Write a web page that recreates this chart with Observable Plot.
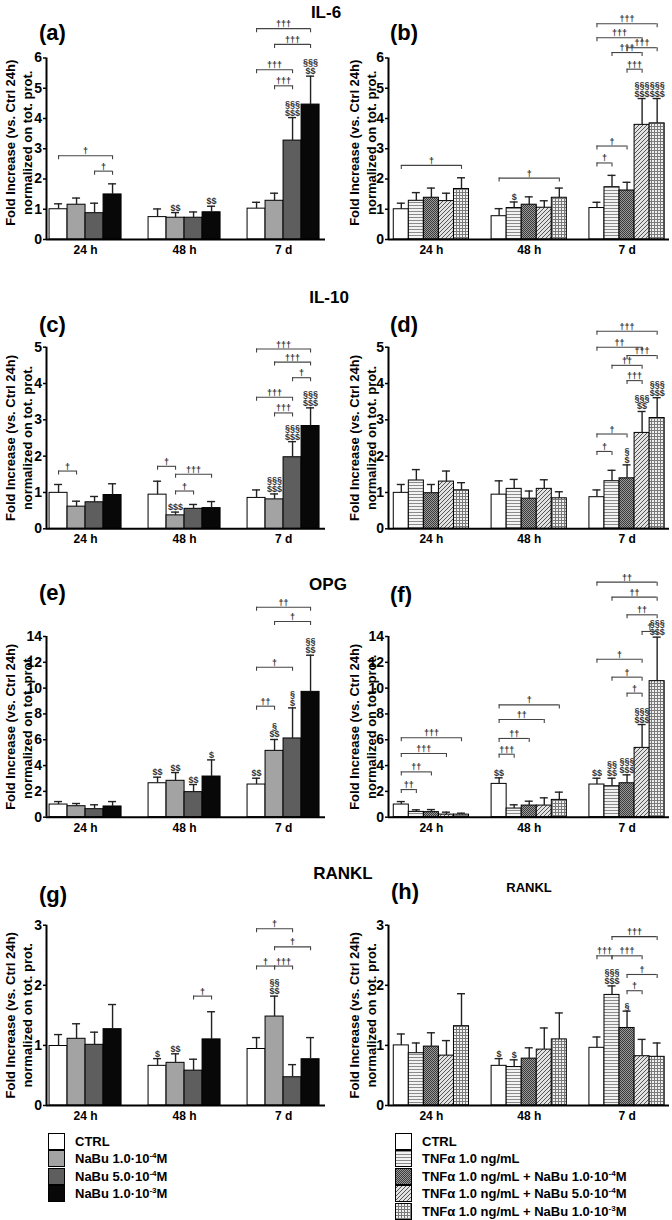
<!DOCTYPE html>
<html><head><meta charset="utf-8">
<script src="https://cdn.jsdelivr.net/npm/d3@7"></script>
<script src="https://cdn.jsdelivr.net/npm/@observablehq/plot@0.6"></script>
<style>
body{margin:0;background:#fff}
#fig{position:relative;width:672px;height:1220px;overflow:hidden;font-family:"Liberation Sans",Arial,sans-serif;color:#000;background:#fff}
.t{position:absolute;font-weight:bold;white-space:nowrap;line-height:1}
.leg{position:absolute;font-weight:bold;font-size:13px;line-height:1}
.lrow{display:flex;align-items:center;height:17.5px}
.lrow svg{margin-right:10px;flex:none}
.leg sup{font-size:8px;vertical-align:5px}
</style></head><body>
<svg width="0" height="0" style="position:absolute">
<defs>
<pattern id="p-h" patternUnits="userSpaceOnUse" width="4" height="3">
<rect width="4" height="3" fill="#f2f2f2"/><rect y="1" width="4" height="1" fill="#8a8a8a"/>
</pattern>
<pattern id="p-d" patternUnits="userSpaceOnUse" width="2" height="2">
<rect width="2" height="2" fill="#9a9a9a"/><rect width="1" height="1" fill="#3a3a3a"/><rect x="1" y="1" width="1" height="1" fill="#3a3a3a"/>
</pattern>
<pattern id="p-x" patternUnits="userSpaceOnUse" width="4" height="4">
<rect width="4" height="4" fill="#e2e2e2"/><path d="M0,4L4,0M-1,1L1,-1M3,5L5,3" stroke="#555" stroke-width="1"/>
</pattern>
<pattern id="p-g" patternUnits="userSpaceOnUse" width="3" height="3">
<rect width="3" height="3" fill="#f0f0f0"/><rect width="3" height="1" fill="#7a7a7a"/><rect width="1" height="3" fill="#7a7a7a"/>
</pattern>
</defs>
</svg>
<div id="fig"></div>
<script>
// ---------- categories ----------
const times = ["24 h", "48 h", "7 d"];
const nabuSeries = ["CTRL", "NaBu 1.0·10<sup>-4</sup>M", "NaBu 5.0·10<sup>-4</sup>M", "NaBu 1.0·10<sup>-3</sup>M"];
const tnfSeries = ["CTRL", "TNFα 1.0 ng/mL", "TNFα 1.0 ng/mL + NaBu 1.0·10<sup>-4</sup>M", "TNFα 1.0 ng/mL + NaBu 5.0·10<sup>-4</sup>M", "TNFα 1.0 ng/mL + NaBu 1.0·10<sup>-3</sup>M"];
const yLabel = "Fold Increase (vs. Ctrl 24h)\nnormalized on tot. prot.";

// ---------- tick labels ----------
const il6Ticks = [0, 1, 2, 3, 4, 5, 6];
const il10Ticks = [0, 1, 2, 3, 4, 5];
const opgTicks = [0, 2, 4, 6, 8, 10, 12, 14];
const ranklTicks = [0, 1, 2, 3];

// ---------- (a) IL-6, NaBu ----------
const il6NabuMean = [[1.00, 1.15, 0.87, 1.49], [0.74, 0.72, 0.72, 0.90], [1.02, 1.28, 3.27, 4.46]];
const il6NabuSd = [[0.18, 0.22, 0.33, 0.35], [0.27, 0.17, 0.19, 0.20], [0.21, 0.25, 0.76, 0.94]];
const il6NabuSig = [["", "", "", ""], ["", "$$", "", "$$"], ["", "", "§§§\n$$$", "§§§\n$$"]];
const il6NabuBrackets = [[0, 0, 3, 2.77, "†"], [0, 2, 3, 2.26, "†"], [2, 0, 3, 6.97, "†††"], [2, 1, 3, 6.45, "†††"], [2, 0, 2, 5.61, "†††"], [2, 1, 2, 5.08, "†††"]];

// ---------- (b) IL-6, TNFα ----------
const il6TnfMean = [[1.00, 1.28, 1.38, 1.27, 1.67], [0.77, 1.04, 1.15, 1.05, 1.38], [1.04, 1.73, 1.62, 3.79, 3.84]];
const il6TnfSd = [[0.20, 0.27, 0.32, 0.26, 0.37], [0.25, 0.20, 0.26, 0.23, 0.32], [0.19, 0.39, 0.27, 0.87, 0.82]];
const il6TnfSig = [["", "", "", "", ""], ["", "$", "", "", ""], ["", "", "", "§§§\n$$$", "§§§\n$$$"]];
const il6TnfBrackets = [[0, 0, 4, 2.45, "†"], [1, 0, 4, 2.03, "†"], [2, 0, 1, 2.53, "†"], [2, 0, 2, 3.09, "†"], [2, 2, 3, 5.63, "†††"], [2, 1, 3, 6.18, "†††"], [2, 2, 4, 6.34, "†††"], [2, 0, 3, 6.67, "†††"], [2, 0, 4, 7.13, "†††"]];

// ---------- (c) IL-10, NaBu ----------
const il10NabuMean = [[0.99, 0.61, 0.73, 0.93], [0.94, 0.37, 0.55, 0.57], [0.85, 0.81, 1.97, 2.83]];
const il10NabuSd = [[0.23, 0.15, 0.16, 0.31], [0.37, 0.09, 0.12, 0.18], [0.22, 0.15, 0.43, 0.50]];
const il10NabuSig = [["", "", "", ""], ["", "$$$", "", ""], ["", "§§§\n$$$", "§§§\n$$$", "§§§\n$$$"]];
const il10NabuBrackets = [[0, 0, 1, 1.59, "†"], [1, 0, 1, 1.72, "†"], [1, 1, 3, 1.50, "†††"], [1, 1, 2, 1.04, "†"], [2, 0, 3, 4.95, "†††"], [2, 1, 3, 4.59, "†††"], [2, 2, 3, 4.16, "†"], [2, 0, 2, 3.62, "†††"], [2, 1, 2, 3.19, "†††"]];

// ---------- (d) IL-10, TNFα ----------
const il10TnfMean = [[0.99, 1.33, 0.98, 1.30, 1.06], [0.94, 1.10, 0.83, 1.10, 0.84], [0.87, 1.31, 1.39, 2.64, 3.05]];
const il10TnfSd = [[0.23, 0.30, 0.24, 0.29, 0.21], [0.38, 0.26, 0.21, 0.25, 0.18], [0.20, 0.30, 0.37, 0.59, 0.56]];
const il10TnfSig = [["", "", "", "", ""], ["", "", "", "", ""], ["", "", "§\n$", "§§§\n$$", "§§§\n$$$"]];
const il10TnfBrackets = [[2, 0, 1, 2.13, "†"], [2, 0, 2, 2.61, "†"], [2, 2, 3, 4.08, "†††"], [2, 1, 3, 4.50, "††"], [2, 2, 4, 4.77, "†††"], [2, 0, 3, 5.00, "††"], [2, 0, 4, 5.44, "†††"]];

// ---------- (e) OPG, NaBu ----------
const opgNabuMean = [[0.98, 0.85, 0.62, 0.83], [2.63, 2.82, 1.94, 3.15], [2.53, 5.14, 6.10, 9.71]];
const opgNabuSd = [[0.23, 0.21, 0.34, 0.38], [0.47, 0.64, 0.59, 1.29], [0.49, 0.88, 2.37, 2.84]];
const opgNabuSig = [["", "", "", ""], ["$$", "$$", "$$", "$"], ["$$", "§\n$$", "§\n$", "§§\n$$"]];
const opgNabuBrackets = [[2, 0, 1, 8.6, "††"], [2, 0, 2, 11.62, "†"], [2, 1, 3, 15.16, "†"], [2, 0, 3, 16.27, "††"]];

// ---------- (f) OPG, TNFα ----------
const opgTnfMean = [[0.98, 0.41, 0.39, 0.20, 0.20], [2.58, 0.67, 0.90, 0.90, 1.34], [2.53, 2.40, 2.63, 5.37, 10.54]];
const opgTnfSd = [[0.23, 0.16, 0.20, 0.19, 0.11], [0.47, 0.29, 0.34, 0.60, 0.60], [0.49, 0.62, 0.65, 1.81, 3.41]];
const opgTnfSig = [["", "", "", "", ""], ["$$", "", "", "", ""], ["$$", "§§\n$$", "§§§\n$$$", "§§§\n$$$", "§§§\n$$$"]];
const opgTnfBrackets = [[0, 0, 1, 2.14, "††"], [0, 0, 2, 3.51, "††"], [0, 0, 3, 4.93, "†††"], [0, 0, 4, 6.15, "†††"], [1, 0, 1, 4.88, "†††"], [1, 0, 2, 6.10, "††"], [1, 0, 3, 7.57, "††"], [1, 0, 4, 8.70, "†"], [2, 2, 3, 9.61, "†"], [2, 1, 3, 10.85, "†"], [2, 0, 3, 12.24, "†"], [2, 3, 4, 14.39, "†"], [2, 2, 4, 15.68, "††"], [2, 1, 4, 17.05, "††"], [2, 0, 4, 18.21, "††"]];

// ---------- (g) RANKL, NaBu ----------
const ranklNabuMean = [[0.99, 1.11, 1.01, 1.27], [0.66, 0.71, 0.58, 1.10], [0.94, 1.48, 0.47, 0.77]];
const ranklNabuSd = [[0.19, 0.25, 0.21, 0.41], [0.12, 0.15, 0.19, 0.46], [0.19, 0.34, 0.21, 0.36]];
const ranklNabuSig = [["", "", "", ""], ["$", "$$", "", ""], ["", "§§\n$$", "", ""]];
const ranklNabuBrackets = [[1, 2, 3, 1.82, "†"], [2, 0, 1, 2.32, "†"], [2, 1, 2, 2.32, "†††"], [2, 1, 3, 2.64, "†"], [2, 0, 2, 2.94, "†"]];

// ---------- (h) RANKL, TNFα ----------
const ranklTnfMean = [[1.00, 0.87, 0.98, 0.83, 1.32], [0.66, 0.64, 0.78, 0.93, 1.10], [0.96, 1.84, 1.29, 0.82, 0.81]];
const ranklTnfSd = [[0.19, 0.17, 0.23, 0.25, 0.54], [0.12, 0.12, 0.18, 0.36, 0.44], [0.18, 0.15, 0.28, 0.28, 0.23]];
const ranklTnfSig = [["", "", "", "", ""], ["$", "$", "", "", ""], ["", "§§§\n$$$", "§", "", ""]];
const ranklTnfBrackets = [[2, 2, 3, 1.91, "†"], [2, 2, 4, 2.18, "†"], [2, 0, 1, 2.49, "†††"], [2, 1, 3, 2.49, "†††"], [2, 1, 4, 2.81, "†††"]];

// ---------- styles / layout ----------
const nabuFills = ["#ffffff", "#a3a3a3", "#5e5e5e", "#080808"];
const tnfFills = ["#ffffff", "url(#p-h)", "url(#p-d)", "url(#p-x)", "url(#p-g)"];
const FONT = "'Liberation Sans', Arial, sans-serif";

const rowsLayout = [
  {top: 0, axisTop: 57.5, zero: 239, labelDy: -6},
  {top: 280, axisTop: 346.7, zero: 528.3, labelDy: 0},
  {top: 560, axisTop: 636, zero: 816.7, labelDy: 0},
  {top: 840, axisTop: 924.7, zero: 1105, labelDy: 0}
];
const colsLayout = [
  {left: 0, marginLeft: 46, marginRight: 11, step: 5.5, padL: 0.17, padR: 0.33, labelDx: -28.5, fills: nabuFills, series: nabuSeries},
  {left: 336, marginLeft: 52, marginRight: 3, step: 6.5, padL: 0.35, padR: 0.32, labelDx: -26.5, fills: tnfFills, series: tnfSeries}
];

const panels = [
  {row: 0, col: 0, mean: il6NabuMean, sd: il6NabuSd, sig: il6NabuSig, brackets: il6NabuBrackets, ticks: il6Ticks},
  {row: 0, col: 1, mean: il6TnfMean, sd: il6TnfSd, sig: il6TnfSig, brackets: il6TnfBrackets, ticks: il6Ticks},
  {row: 1, col: 0, mean: il10NabuMean, sd: il10NabuSd, sig: il10NabuSig, brackets: il10NabuBrackets, ticks: il10Ticks},
  {row: 1, col: 1, mean: il10TnfMean, sd: il10TnfSd, sig: il10TnfSig, brackets: il10TnfBrackets, ticks: il10Ticks},
  {row: 2, col: 0, mean: opgNabuMean, sd: opgNabuSd, sig: opgNabuSig, brackets: opgNabuBrackets, ticks: opgTicks},
  {row: 2, col: 1, mean: opgTnfMean, sd: opgTnfSd, sig: opgTnfSig, brackets: opgTnfBrackets, ticks: opgTicks},
  {row: 3, col: 0, mean: ranklNabuMean, sd: ranklNabuSd, sig: ranklNabuSig, brackets: ranklNabuBrackets, ticks: ranklTicks},
  {row: 3, col: 1, mean: ranklTnfMean, sd: ranklTnfSd, sig: ranklTnfSig, brackets: ranklTnfBrackets, ticks: ranklTicks}
];

const fig = document.getElementById("fig");

function makePanel(p) {
  const R = rowsLayout[p.row], C = colsLayout[p.col];
  const n = C.series.length;
  const bars = [];
  p.mean.forEach((vals, g) => vals.forEach((m, k) => {
    const x1 = g * C.step + k;
    bars.push({k, x1, x2: x1 + 1, xc: x1 + 0.5, mean: m, cap: m + p.sd[g][k], sig: p.sig[g][k]});
  }));
  const br = p.brackets.map(([g, a, b, h, label]) => {
    const xa = g * C.step + a + 0.5, xb = g * C.step + b + 0.5;
    return {xa, xb, xm: (xa + xb) / 2, h, label};
  });
  const ends = br.flatMap(d => [{x: d.xa, h: d.h}, {x: d.xb, h: d.h}]);
  const centers = times.map((t, g) => g * C.step + n / 2);
  const labelOf = new Map(centers.map((c, g) => [c, times[g]]));
  const xmin = -C.padL, xmax = (times.length - 1) * C.step + n + C.padR;
  const ymax = p.ticks[p.ticks.length - 1];
  const svg = Plot.plot({
    width: 336,
    height: R.zero - R.top + 25,
    marginTop: R.axisTop - R.top,
    marginBottom: 25,
    marginLeft: C.marginLeft,
    marginRight: C.marginRight,
    x: {domain: [xmin, xmax]},
    y: {domain: [0, ymax]},
    style: {fontFamily: FONT, color: "#000", background: "transparent", overflow: "visible"},
    marks: [
      ...C.fills.map((f, k) => Plot.rect(bars.filter(d => d.k === k), {x1: "x1", x2: "x2", y1: 0, y2: "mean", fill: f, stroke: "#000", strokeWidth: 1})),
      Plot.ruleX(bars, {x: "xc", y1: "mean", y2: "cap", stroke: "#222", strokeWidth: 1.4}),
      Plot.ruleY(bars, {y: "cap", x1: "xc", x2: "xc", insetLeft: -4, insetRight: -4, stroke: "#222", strokeWidth: 1.4}),
      Plot.text(bars.filter(d => d.sig), {x: "xc", y: "cap", text: "sig", lineAnchor: "bottom", dy: -2, fontSize: 9, fontWeight: "bold", lineHeight: 1, fill: "#333"}),
      Plot.ruleY(br, {y: "h", x1: "xa", x2: "xb", stroke: "#444", strokeWidth: 1.1}),
      Plot.ruleX(ends, {x: "x", y1: "h", y2: "h", insetTop: 0, insetBottom: -4, stroke: "#444", strokeWidth: 1.1}),
      Plot.text(br, {x: "xm", y: "h", text: "label", lineAnchor: "bottom", dy: -1.5, fontSize: 9, fontWeight: "bold", fill: "#333"}),
      Plot.ruleY([0], {stroke: "#000", strokeWidth: 2}),
      Plot.ruleX([{x: xmin}], {x: "x", y1: 0, y2: ymax, stroke: "#000", strokeWidth: 2}),
      Plot.axisY({ticks: p.ticks, tickFormat: d => String(d), tickSize: 3, tickPadding: 1.5, fontSize: 14, fontWeight: "bold", strokeWidth: 1.5, label: null}),
      Plot.axisX({ticks: centers, tickFormat: d => labelOf.get(d), tickSize: 0, tickPadding: 6, fontSize: 12, fontWeight: "bold", label: null}),
      Plot.text([yLabel], {text: d => d, frameAnchor: "left", rotate: -90, dx: C.labelDx, dy: R.labelDy, textAnchor: "middle", lineAnchor: "middle", fontSize: 13, fontWeight: "bold", lineHeight: 1.3})
    ]
  });
  svg.style.position = "absolute";
  svg.style.left = C.left + "px";
  svg.style.top = R.top + "px";
  fig.appendChild(svg);
}
panels.forEach(makePanel);

// ---------- titles / letters ----------
function label(text, x, y, size, center) {
  const d = document.createElement("div");
  d.className = "t";
  d.textContent = text;
  d.style.fontSize = size + "px";
  d.style.left = x + "px";
  d.style.top = y + "px";
  d.style.transform = center ? "translate(-50%,-50%)" : "translate(0,-50%)";
  fig.appendChild(d);
}
const titles = [["IL-6", 326, 12], ["IL-10", 329, 297], ["OPG", 328, 584], ["RANKL", 343, 873]];
titles.forEach(([t, x, y]) => label(t, x, y, 17, true));
const letters = [["(a)", 39, 33], ["(b)", 390, 33], ["(c)", 39, 325], ["(d)", 390, 325], ["(e)", 39, 593], ["(f)", 390, 595], ["(g)", 39, 895], ["(h)", 391, 892]];
letters.forEach(([t, x, y]) => label(t, x, y, 22, false));
label("RANKL", 529, 887, 13, true);

// ---------- legends ----------
function legend(series, fills, left, top) {
  const box = document.createElement("div");
  box.className = "leg";
  box.style.left = left + "px";
  box.style.top = top + "px";
  series.forEach((s, k) => {
    const row = document.createElement("div");
    row.className = "lrow";
    row.innerHTML = `<svg width="17" height="17"><rect x="0.5" y="0.5" width="16" height="16" fill="${fills[k]}" stroke="#000" stroke-width="1"/></svg><span>${s}</span>`;
    box.appendChild(row);
  });
  fig.appendChild(box);
}
legend(nabuSeries, nabuFills, 48, 1132.5);
legend(tnfSeries, tnfFills, 395, 1132.5);
</script>
</body></html>
